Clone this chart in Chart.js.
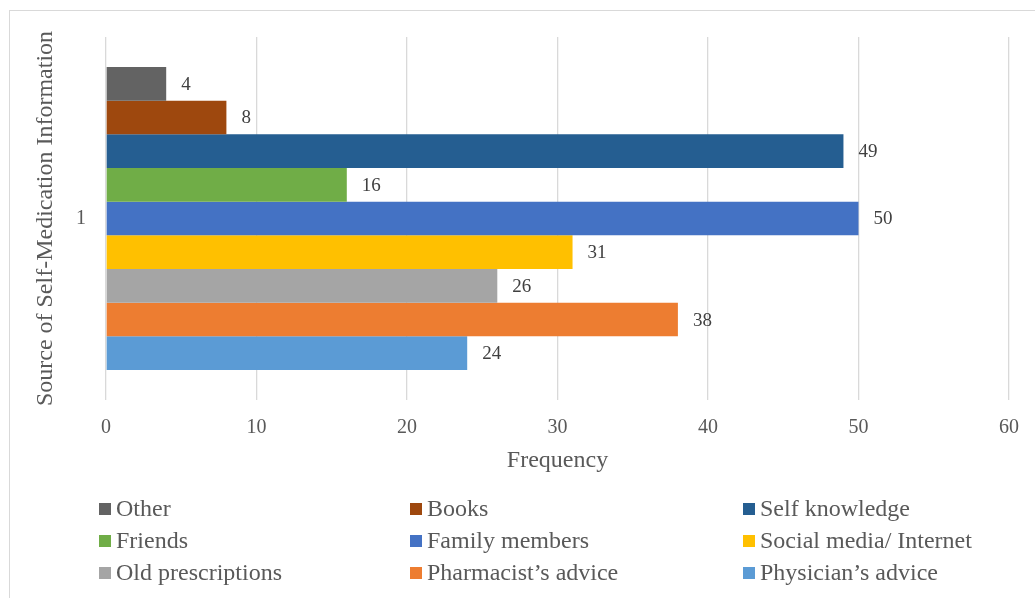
<!DOCTYPE html>
<html>
<head>
<meta charset="utf-8">
<script src="https://cdn.jsdelivr.net/npm/chart.js@4"></script>
<style>
  html, body { margin: 0; padding: 0; background: #fff; }
  #wrap { position: relative; width: 1035px; height: 598px; overflow: hidden; }
  #frame { position: absolute; left: 9px; top: 10px; width: 1040px; height: 600px; border: 1px solid #d9d9d9; }
  #chart { position: absolute; left: 0; top: 0; }
</style>
</head>
<body>
<div id="wrap">
  <div id="frame"></div>
  <canvas id="chart" width="1035" height="598"></canvas>
</div>
<script>
const categories = ['1'];
const seriesNames = [
  'Other', 'Books', 'Self knowledge', 'Friends', 'Family members',
  'Social media/ Internet', 'Old prescriptions', 'Pharmacist\u2019s advice', 'Physician\u2019s advice'
];
const seriesValues = [4, 8, 49, 16, 50, 31, 26, 38, 24];
const seriesColors = [
  '#636363', '#9e480e', '#255e91', '#70ad47', '#4472c4',
  '#ffc000', '#a5a5a5', '#ed7d31', '#5b9bd5'
];
const xTicks = [0, 10, 20, 30, 40, 50, 60];

const serif = '"Liberation Serif", "Times New Roman", serif';

// value labels to the right of each bar
const valueLabels = {
  id: 'valueLabels',
  afterDatasetsDraw(chart) {
    const ctx = chart.ctx;
    ctx.save();
    ctx.font = '19px ' + serif;
    ctx.fillStyle = '#404040';
    ctx.textAlign = 'left';
    ctx.textBaseline = 'middle';
    chart.data.datasets.forEach((ds, i) => {
      chart.getDatasetMeta(i).data.forEach((bar, j) => {
        ctx.fillText(String(ds.data[j]), bar.x + 15, bar.y + 1);
      });
    });
    ctx.restore();
  }
};

// three-column legend under the axis
const gridLegend = {
  id: 'gridLegend',
  afterDraw(chart) {
    const ctx = chart.ctx;
    const colX = [99, 410, 743];
    const rowY = [509, 541, 573];
    ctx.save();
    ctx.font = '24px ' + serif;
    ctx.textBaseline = 'middle';
    ctx.textAlign = 'left';
    chart.data.datasets.forEach((ds, i) => {
      const x = colX[i % 3];
      const y = rowY[Math.floor(i / 3)];
      ctx.fillStyle = ds.backgroundColor;
      ctx.fillRect(x, y - 6, 12, 12);
      ctx.fillStyle = '#595959';
      ctx.fillText(ds.label, x + 17, y + 1);
    });
    ctx.restore();
  }
};

new Chart(document.getElementById('chart'), {
  type: 'bar',
  data: {
    labels: categories,
    datasets: seriesNames.map((name, i) => ({
      label: name,
      data: [seriesValues[i]],
      backgroundColor: seriesColors[i],
      borderWidth: 0,
      categoryPercentage: 0.835,
      barPercentage: 1
    }))
  },
  options: {
    indexAxis: 'y',
    responsive: false,
    animation: false,
    layout: { padding: { left: 20, top: 37, right: 26, bottom: 118 } },
    plugins: {
      legend: { display: false },
      tooltip: { enabled: false }
    },
    scales: {
      x: {
        min: 0,
        max: 60,
        afterFit: s => { s.height = 80; },
        afterBuildTicks: s => { s.ticks = xTicks.map(v => ({ value: v })); },
        ticks: { color: '#595959', font: { family: serif, size: 20 }, padding: 16 },
        grid: { color: '#d9d9d9', lineWidth: 1.3, drawTicks: false },
        border: { display: false },
        title: {
          display: true,
          text: 'Frequency',
          color: '#595959',
          font: { family: serif, size: 24 },
          padding: { top: 4, bottom: 5 }
        }
      },
      y: {
        afterFit: s => { s.width = 86; },
        ticks: { color: '#595959', font: { family: serif, size: 20 }, padding: 20 },
        grid: { display: false, drawTicks: false },
        border: { display: false },
        title: {
          display: true,
          text: 'Source of Self-Medication Information',
          color: '#595959',
          font: { family: serif, size: 24 },
          padding: { top: 11, bottom: 0 }
        }
      }
    }
  },
  plugins: [valueLabels, gridLegend]
});
</script>
</body>
</html>
